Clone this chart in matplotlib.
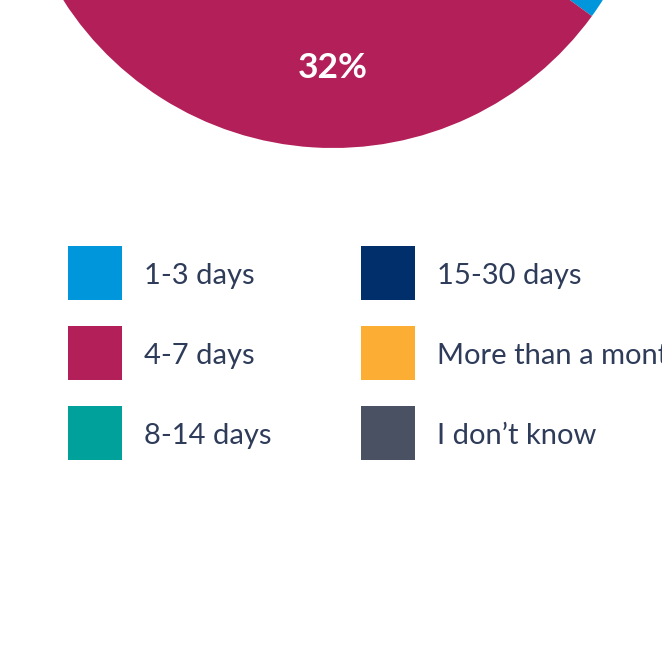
import matplotlib
matplotlib.use('Agg')
import matplotlib.pyplot as plt
from matplotlib.patches import Rectangle

# survey answers, slice shares in percent (only 4-7 days is visible in the crop)
labels = ['1-3 days', '4-7 days', '8-14 days', '15-30 days', 'More than a month', "I don\u2019t know"]
shares = [35, 32, 17, 8, 5, 3]
colors = ['#0096DB', '#B31F58', '#00A19A', '#002F6C', '#FBAE33', '#4A5163']
text_col = '#2E3C5A'

W, H = 662, 671
cx, cy, rad = 333, H + 172, 320
plt.rcParams['font.family'] = ['Lato', 'DejaVu Sans']

fig = plt.figure(figsize=(W / 100, H / 100), dpi=100)
ax = fig.add_axes([0, 0, 1, 1])

# pie is bigger than the canvas, its centre sits above the top edge
wedges, texts, autotexts = ax.pie(
    shares, colors=colors, center=(cx, cy), radius=rad,
    startangle=90, counterclock=False, autopct='%.0f%%', pctdistance=0.75,
    wedgeprops=dict(linewidth=0),
    textprops=dict(color='white', fontsize=25.5, fontweight='bold'))

# labels of slices that fall outside the crop are not shown
for t in autotexts:
    x, y = t.get_position()
    t.set_visible(0 < x < W and 0 < y < H - 20)
    if t.get_visible():
        t.set_x(cx)

ax.set_xlim(0, W)
ax.set_ylim(0, H)
ax.set_aspect('auto')
ax.axis('off')

# legend, two columns of three
for i, (lab, col) in enumerate(zip(labels, colors)):
    c, r = divmod(i, 3)
    x0 = 68 + c * 293
    top = 246 + r * 80
    ax.add_patch(Rectangle((x0, H - top - 54), 54, 54, facecolor=col, linewidth=0))
    ax.text(x0 + 76, H - top - 38, lab, fontsize=21, fontweight='normal',
            color=text_col, va='baseline', ha='left')

fig.savefig('out.png', dpi=100)
